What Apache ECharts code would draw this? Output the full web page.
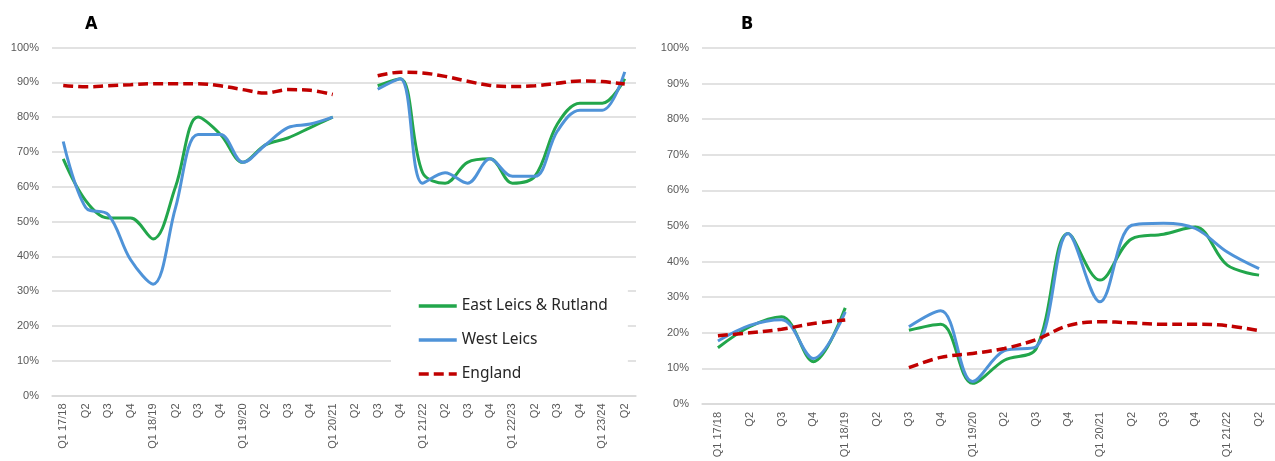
<!DOCTYPE html>
<html><head><meta charset="utf-8">
<script src="https://cdn.jsdelivr.net/npm/echarts@6/dist/echarts.min.js"></script>
<style>html,body{margin:0;padding:0;background:#fff}#c{width:1275px;height:461px}</style>
</head><body><div id="c"></div>
<script>
// Panel A categories
const catsA = ['Q1 17/18','Q2','Q3','Q4','Q1 18/19','Q2','Q3','Q4','Q1 19/20','Q2','Q3','Q4','Q1 20/21','Q2','Q3','Q4','Q1 21/22','Q2','Q3','Q4','Q1 22/23','Q2','Q3','Q4','Q1 23/24','Q2'];
const eastA = [68,56,51,51,45,60,80,75,67,72,74,77,80,null,89,91,64,61,67,68,61,63,78,84,84,91];
const westA = [73,54,52,39,32,54,75,75,67,72,77,78,80,null,88,91,61,64,61,68,63,63,76,82,82,93];
const englandA = [89.1,88.7,89,89.3,89.6,89.6,89.6,89,87.9,86.9,87.9,87.7,86.5,null,91.9,92.9,92.7,91.7,90.3,89.1,88.8,89,89.7,90.4,90.2,89.5];
// Panel B categories
const catsB = ['Q1 17/18','Q2','Q3','Q4','Q1 18/19','Q2','Q3','Q4','Q1 19/20','Q2','Q3','Q4','Q1 20/21','Q2','Q3','Q4','Q1 21/22','Q2'];
const eastB = [15.8,21.7,24.5,11.9,27,null,20.7,22.4,5.8,12.3,15.6,47.9,34.8,46.4,47.7,49.7,39,36.2];
const westB = [17.7,22.1,23.7,12.8,25.9,null,21.7,26.2,6.3,15,16.1,47.9,28.7,50.2,50.8,49.3,42.7,38];
const englandB = [19.2,20,21,22.6,23.6,null,10.2,13.1,14.2,15.6,18.1,22,23.1,22.8,22.4,22.4,22,20.6];
const yTicks = {min:0, max:100, interval:10};
const names = ['East Leics & Rutland','West Leics','England'];

const GREEN = '#22a64b', BLUE = '#4f93d8', RED = '#c00000';
const axisFont = 'Liberation Sans, Arial, sans-serif';

function xAxis(idx, cats){
  return {type:'category', gridIndex:idx, data:cats, boundaryGap:true,
    axisLine:{show:true, lineStyle:{color:'#d9d9d9', width:1.5}}, axisTick:{show:false},
    axisLabel:{rotate:90, interval:0, color:'#595959', fontSize:11, fontFamily:axisFont, margin:8}};
}
function yAxis(idx){
  return {type:'value', gridIndex:idx, min:yTicks.min, max:yTicks.max, interval:yTicks.interval,
    axisLine:{show:false}, axisTick:{show:false},
    splitLine:{lineStyle:{color:'#d9d9d9', width:1.5}},
    axisLabel:{formatter:'{value}%', color:'#595959', fontSize:11, fontFamily:axisFont, margin:13}};
}
function line(name, data, idx, color, dashed){
  return {name:name, type:'line', xAxisIndex:idx, yAxisIndex:idx, data:data, smooth:0.35,
    connectNulls:false, symbol:'none', showSymbol:false,
    lineStyle:{color:color, width: dashed ? 3.5 : 3, type: dashed ? [10,5] : 'solid'}, itemStyle:{color:color},
    emphasis:{disabled:true}, z: dashed ? 3 : 2};
}

const chart = echarts.init(document.getElementById('c'), null, {renderer:'canvas'});
chart.setOption({
  animation:false,
  backgroundColor:'#fff',
  title:[
    {text:'A', left:80, top:10, textStyle:{fontSize:18, fontWeight:'bold', color:'#000', fontFamily:'DejaVu Sans Condensed, sans-serif'}},
    {text:'B', left:736, top:10, textStyle:{fontSize:18, fontWeight:'bold', color:'#000', fontFamily:'DejaVu Sans Condensed, sans-serif'}}
  ],
  grid:[
    {left:52, top:47.5, width:584, height:348, containLabel:false},
    {left:702, top:48, width:587, height:356, containLabel:false}
  ],
  xAxis:[xAxis(0,catsA), xAxis(1,catsB)],
  yAxis:[yAxis(0), yAxis(1)],
  legend:{data:names, orient:'vertical', left:391, top:266, width:238,
    backgroundColor:'#fff', padding:[32,20,10,26], itemWidth:38, itemHeight:14, itemGap:18,
    itemStyle:{opacity:0}, lineStyle:{width:3.5},
    selectedMode:false, textStyle:{fontSize:15.5, color:'#262626', fontFamily:'Noto Sans, sans-serif'}},
  series:[
    line(names[0], eastA, 0, GREEN, false),
    line(names[1], westA, 0, BLUE, false),
    line(names[2], englandA, 0, RED, true),
    line(names[0], eastB, 1, GREEN, false),
    line(names[1], westB, 1, BLUE, false),
    line(names[2], englandB, 1, RED, true)
  ]
});
</script></body></html>
